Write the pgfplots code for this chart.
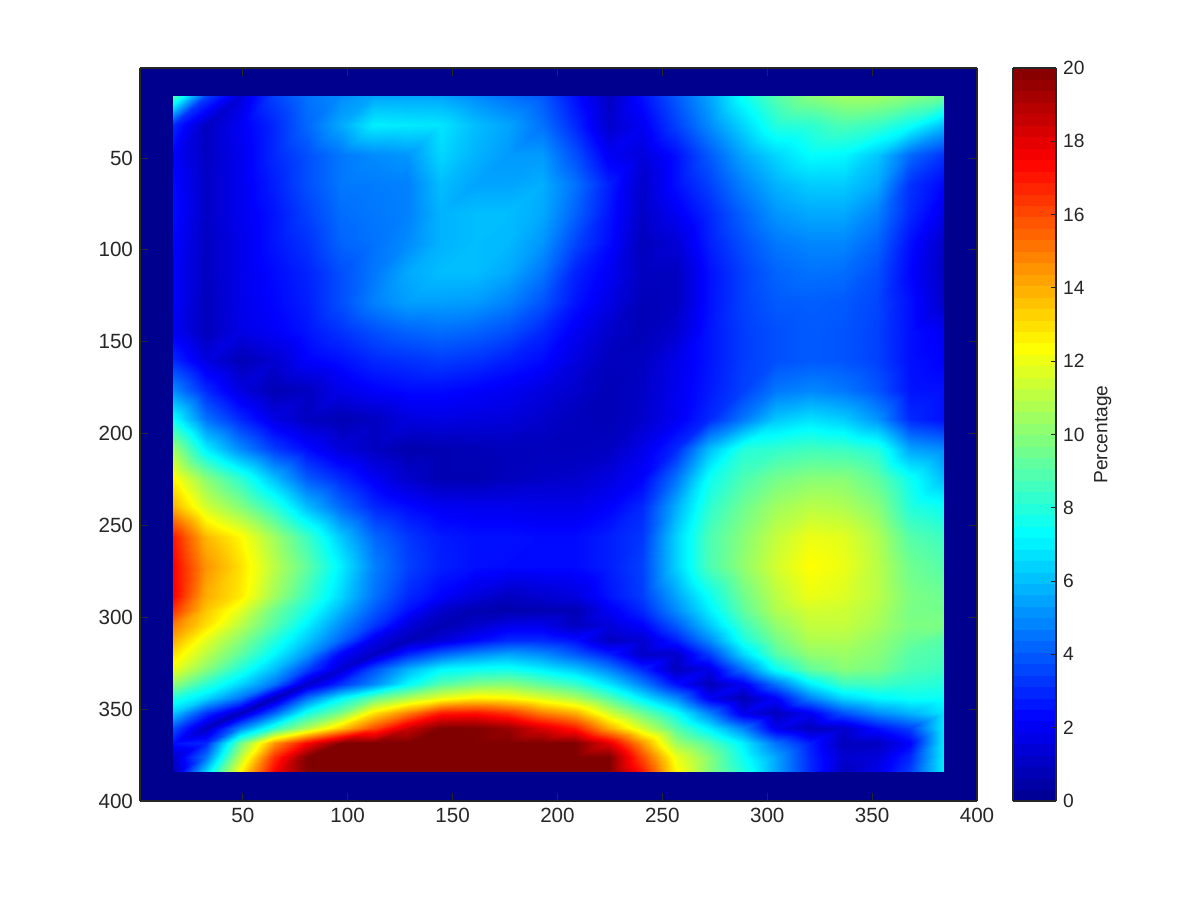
\documentclass[border=0pt]{standalone}
\usepackage{fontspec}
\setmainfont{Liberation Sans}
\usepackage{pgfplots}
\pgfplotsset{compat=1.18}
\definecolor{mlgray}{rgb}{0.15,0.15,0.15}
\definecolor{mlbase}{rgb}{0,0,0.5625}
\begin{document}
\begin{tikzpicture}[x=1pt,y=1pt]
\path[use as bounding box] (0,0) rectangle (600,450);
\begin{axis}[
  at={(70pt,49.5pt)},anchor=south west,
  scale only axis,width=418.5pt,height=366.5pt,
  view={0}{90},
  xmin=1,xmax=400,ymin=1,ymax=400,
  y dir=reverse,
  xtick={50,100,...,400},ytick={50,100,...,400},
  tick align=inside,
  major tick length=4pt,
  tick style={mlgray,line width=0.5pt},
  axis line style={mlgray,line width=0.7pt},
  every tick label/.append style={font=\fontsize{10.3}{12}\selectfont,text=mlgray},
  /pgf/number format/assume math mode=true,
  axis background/.style={fill=mlbase},
  axis on top,
  colormap={mjet}{rgb255(1)=(0,0,143) rgb255(8)=(0,0,255) rgb255(24)=(0,255,255) rgb255(40)=(255,255,0) rgb255(56)=(255,0,0) rgb255(64)=(128,0,0)},
  point meta min=0,point meta max=20,
  colorbar sampled,
  colorbar style={
    samples=65,
    at={(1.043,1)},anchor=north west,
    width=21.5pt,height=366.5pt,
    ytick={0,2,...,20},
    ytick pos=right,
    tick align=inside,
    major tick length=2.5pt,
    tick style={mlgray,line width=0.5pt},
    axis line style={mlgray,line width=0.7pt},
    yticklabel pos=right,
    ylabel={Percentage},
    ylabel style={font=\fontsize{9.6}{11}\selectfont,text=mlgray,yshift=2pt},
    every tick label/.append style={font=\fontsize{9.6}{11}\selectfont,text=mlgray},
    /pgf/number format/assume math mode=true,
  },
]
\addplot3[surf,shader=interp,mesh/cols=24,mesh/ordering=x varies,point meta=\thisrowno{0}]
 table[row sep=\\,header=false,
   x expr={16.7+15.98*mod(\coordindex,24)},
   y expr={0.2+ifthenelse(floor((\coordindex+0.5)/24)<=17,16+16*floor((\coordindex+0.5)/24),288+8*(floor((\coordindex+0.5)/24)-17))},
   z expr={\thisrowno{0}}] {
9\\3.5\\1.5\\3.5\\4.5\\5\\5.5\\5.5\\5.5\\5\\4.5\\4\\2.5\\1\\2.5\\4\\5.5\\7.5\\9\\10\\10.5\\10.5\\10\\9.5\\
3\\1\\2\\3\\4.3\\5.6\\7\\6.9\\6.8\\6\\5.5\\4.5\\3\\1.2\\2\\3.5\\5\\6.5\\8\\8.2\\8.8\\8.4\\7.5\\6\\
2.2\\1\\1.9\\3\\3.8\\4.6\\5\\5.2\\6.5\\5.8\\5.3\\5.3\\3.8\\2\\1.5\\2.5\\4\\5.5\\6.5\\7.3\\7.2\\6.2\\4.3\\3.2\\
2.4\\1.1\\1.9\\2.8\\3.8\\4.6\\4.7\\4.8\\6\\5.5\\5.5\\5.7\\4.5\\2.8\\1.2\\2.5\\3.5\\4.8\\5.8\\6.3\\6.3\\5.6\\3.2\\2.3\\
2.5\\1.1\\1.9\\2.6\\3.5\\4.4\\4.6\\4.8\\5.8\\6\\6\\5.6\\4.2\\2.6\\1.1\\2\\3\\4.2\\5.2\\5.6\\5.6\\4.8\\3\\1.8\\
2.3\\1\\1.8\\2.6\\3.2\\4.2\\4.5\\5\\5.8\\6\\5.9\\5.2\\3.6\\2.4\\0.9\\1.4\\2.8\\3.8\\4.6\\4.9\\4.9\\4.2\\2.5\\1.1\\
2.2\\1\\1.8\\2.4\\2.9\\3.8\\4.6\\5.6\\6\\6\\5.6\\4.6\\2.9\\2\\1\\1\\2.5\\3.5\\4.2\\4.5\\4.4\\3.8\\2.3\\1\\
2.2\\0.9\\1.8\\2.3\\2.8\\3.8\\4.8\\5.4\\5.4\\5.3\\4.8\\3.9\\2.6\\1.7\\0.8\\1\\2.5\\3.5\\4\\4.1\\4\\3.6\\2.5\\1.2\\
2\\0.9\\1.7\\2.1\\2.6\\3.2\\3.8\\4.2\\4.4\\4.2\\3.8\\3\\2\\1.2\\0.8\\1.3\\2.6\\3.4\\3.8\\4\\3.9\\3.5\\2.5\\2\\
3\\1.6\\0.8\\1.3\\2.2\\2.5\\3\\3.2\\3.4\\3.2\\2.8\\2.4\\1.6\\0.9\\1\\1.8\\2.6\\3.4\\3.8\\4\\3.9\\3.5\\2.5\\2.2\\
5\\3\\1.6\\0.7\\1\\1.8\\2.2\\2.4\\2.4\\2.2\\2\\1.6\\1.2\\0.8\\1.1\\1.9\\2.7\\3.5\\4.6\\4.9\\4.6\\3.9\\2.6\\2.5\\
7.5\\4.5\\3\\1.7\\1\\0.7\\1\\1.6\\1.7\\1.6\\1.5\\1.2\\0.9\\0.8\\1.2\\2\\3\\4.6\\6.2\\6.7\\6.3\\5.2\\3\\2.5\\
10.5\\7\\5\\3.4\\2.4\\1.5\\1\\0.6\\0.7\\0.8\\0.9\\0.9\\0.9\\1\\1.8\\3\\6\\8\\8.3\\8.6\\8.5\\8\\5.5\\5\\
12.5\\10\\8.2\\6\\4\\3\\2\\1.2\\0.7\\0.7\\0.9\\1.1\\1.2\\1.6\\2.2\\4.5\\7.5\\8.8\\9.6\\10\\10\\9.2\\7.5\\6\\
14\\11.5\\10\\8.2\\6\\4.3\\3\\2.4\\2\\1.9\\1.9\\1.8\\1.8\\2.2\\3\\5.7\\8.2\\9.5\\10.5\\11\\10.8\\10\\8\\7.5\\
17\\13.8\\12.5\\10.5\\8.5\\6.2\\4.3\\3.3\\2.7\\2.5\\2.5\\2.4\\2.4\\2.8\\3.3\\6.4\\8.8\\10\\11.2\\12\\11.8\\10.8\\9\\8.5\\
17.5\\14.5\\13\\11\\9.2\\7\\4.8\\3.5\\2.8\\2.5\\2.4\\2.4\\2.4\\2.8\\3.5\\6.4\\8.8\\10.2\\11.5\\12.4\\12\\11\\9.5\\9\\
17.5\\14\\12.8\\10.5\\8.5\\6.5\\4.5\\3\\2.2\\1.5\\1\\1.3\\1.6\\2.6\\3.4\\5.5\\7.5\\9.5\\11\\12\\11.7\\11\\9.8\\9.5\\
16.5\\13.5\\11.8\\9.5\\7.8\\5.8\\4\\2.5\\1.2\\0.7\\0.6\\0.7\\0.7\\2\\3\\5\\7\\9.2\\10.8\\11.5\\11.4\\10.8\\9.7\\9.6\\
15\\13\\11\\9\\7\\5\\3.3\\1.5\\0.7\\1.2\\1.8\\1.8\\1\\1.5\\2.2\\4\\6.2\\8.5\\10.2\\11.2\\11.2\\10.6\\9.8\\9.8\\
14\\11.8\\10\\8\\6.2\\4.2\\1.8\\0.8\\1.5\\2.3\\3\\3\\2.5\\1\\1.3\\2.8\\5\\7.8\\9.6\\10.8\\10.8\\10.2\\9.4\\9\\
13\\11\\9.2\\7.2\\5.2\\2.2\\1\\3\\4.2\\5\\5.5\\5\\4\\2.8\\1.1\\1.2\\3.4\\6.5\\9\\10.2\\10.4\\10\\9\\8.8\\
12\\10\\8\\6\\3.5\\1.3\\3.8\\5.8\\7.2\\7.5\\7.6\\7\\6.2\\4.8\\3\\0.9\\1.7\\4.5\\7.5\\9.3\\10\\9.7\\8.8\\8.5\\
10.2\\8.2\\6.5\\4.5\\1.1\\3.2\\5\\7.3\\9\\9.8\\10\\9.2\\8.4\\6.8\\4.8\\2.5\\0.8\\2\\4.5\\7\\8.5\\8.6\\8.2\\8\\
8\\6.5\\4.5\\0.8\\4.5\\7.2\\9.3\\10.8\\12\\12.7\\12.5\\11.7\\10.8\\9\\7\\5\\2\\0.7\\2.2\\4.8\\6.5\\7.2\\7.5\\7.5\\
6.2\\3.2\\0.9\\4.2\\7.8\\9.8\\13\\15\\17\\17.2\\16.5\\15\\14\\11.5\\9.5\\7.5\\4.8\\1.8\\0.9\\2\\3.8\\5\\5.8\\6.8\\
3.8\\0.9\\4.8\\8.2\\10.8\\13.5\\16\\18.5\\20\\20\\19.5\\18.2\\17\\14\\11.5\\9\\7\\4.8\\1.8\\0.9\\1.2\\2.5\\3.5\\7\\
2.5\\3\\9.5\\14.5\\17.5\\20\\22\\23\\24\\24\\23\\21.5\\20\\18\\14.5\\10.5\\9\\7\\4.5\\2.8\\0.9\\1\\2.2\\7\\
1.2\\4.5\\11\\16.5\\20\\22\\26\\26\\26\\26\\26\\25\\24\\20\\16\\12\\10\\7.5\\5.5\\3\\1.3\\1.5\\3\\7\\
0.8\\6.5\\12.5\\17.5\\21.5\\27\\27\\27\\27\\27\\27\\26\\25\\20\\17\\12.5\\10\\8\\5.5\\3\\1\\1.8\\3.5\\7\\
};
\end{axis}
\end{tikzpicture}
\end{document}
